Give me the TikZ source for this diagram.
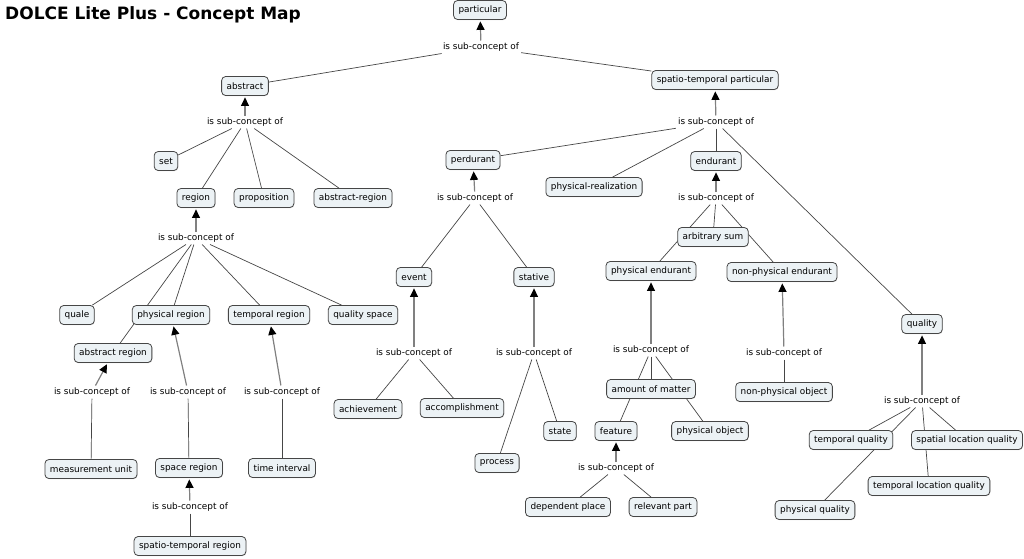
\documentclass[tikz,border=0pt]{standalone}
\usepackage{fontspec}
\setmainfont{DejaVu Sans}
\usepackage{tikz}
\usetikzlibrary{arrows.meta,backgrounds,shadows}
\definecolor{CMfill}{RGB}{236,242,245}
\definecolor{CMline}{RGB}{70,70,70}
\tikzset{
  concept/.style={rounded corners=4pt,draw=CMline,line width=0.8pt,fill=CMfill,
                  minimum height=19pt,inner xsep=5pt,inner ysep=2pt,
                  font=\fontsize{8.9}{10}\selectfont,
                  drop shadow={shadow xshift=0.5pt,shadow yshift=-0.7pt,fill=black!30}},
  link/.style={inner sep=2pt,font=\fontsize{8.9}{10}\selectfont},
  isa/.style={-{Triangle[length=8.5pt,width=8pt,color=black]},line width=1.2pt,
              black!50,shorten >=1.5pt},
  rel/.style={line width=0.7pt,CMline},
}

\begin{document}
\begin{tikzpicture}[x=1pt,y=-1pt]
  \useasboundingbox (0,0) rectangle (1024,558);
  \node[anchor=west,inner sep=1pt,font=\fontsize{17}{19}\selectfont\bfseries] (title) at (4,15)
    {DOLCE Lite Plus - Concept Map};

  \node[concept] (particular) at (480,10) {particular};
  \node[concept] (abstract) at (245,86) {abstract};
  \node[concept] (stp) at (715,80) {spatio-temporal particular};
  \node[concept] (set) at (166,161) {set};
  \node[concept] (region) at (196,198) {region};
  \node[concept] (proposition) at (264,198) {proposition};
  \node[concept] (absregion) at (353,198) {abstract-region};
  \node[concept] (quale) at (77,315) {quale};
  \node[concept] (physregion) at (171,315) {physical region};
  \node[concept] (tempregion) at (269,315) {temporal region};
  \node[concept] (qualspace) at (363,315) {quality space};
  \node[concept] (abstractregion) at (113,353) {abstract region};
  \node[concept] (measunit) at (91,469) {measurement unit};
  \node[concept] (spaceregion) at (189,468) {space region};
  \node[concept] (timeinterval) at (282,468) {time interval};
  \node[concept] (stregion) at (190,546) {spatio-temporal region};

  \node[concept] (perdurant) at (473,160) {perdurant};
  \node[concept] (physreal) at (594,187) {physical-realization};
  \node[concept] (endurant) at (716,161) {endurant};
  \node[concept] (event) at (414,277) {event};
  \node[concept] (stative) at (534,277) {stative};
  \node[concept] (achievement) at (368,409) {achievement};
  \node[concept] (accomplishment) at (462,408) {accomplishment};
  \node[concept] (state) at (560,431) {state};
  \node[concept] (process) at (497,463) {process};
  \node[concept] (arbsum) at (713,237) {arbitrary sum};
  \node[concept] (physend) at (651,271) {physical endurant};
  \node[concept] (nonphysend) at (782,272) {non-physical endurant};
  \node[concept] (matter) at (651,389) {amount of matter};
  \node[concept] (feature) at (616,431) {feature};
  \node[concept] (physobj) at (710,431) {physical object};
  \node[concept] (depplace) at (568,507) {dependent place};
  \node[concept] (relpart) at (663,507) {relevant part};
  \node[concept] (nonphysobj) at (784,392) {non-physical object};
  \node[concept] (quality) at (922,324) {quality};
  \node[concept] (tempquality) at (851,440) {temporal quality};
  \node[concept] (spatquality) at (967,440) {spatial location quality};
  \node[concept] (templocquality) at (929,486) {temporal location quality};
  \node[concept] (physquality) at (815,510) {physical quality};

  \node[link] (l0) at (481,47) {is sub-concept of};
  \node[link] (l1) at (245,122) {is sub-concept of};
  \node[link] (l2) at (196,238) {is sub-concept of};
  \node[link] (l3) at (92,392) {is sub-concept of};
  \node[link] (l4) at (188,392) {is sub-concept of};
  \node[link] (l5) at (282,392) {is sub-concept of};
  \node[link] (l6) at (190,507) {is sub-concept of};
  \node[link] (l7) at (716,122) {is sub-concept of};
  \node[link] (l8) at (475,198) {is sub-concept of};
  \node[link] (l9) at (414,353) {is sub-concept of};
  \node[link] (l10) at (534,353) {is sub-concept of};
  \node[link] (l11) at (716,198) {is sub-concept of};
  \node[link] (l12) at (651,350) {is sub-concept of};
  \node[link] (l13) at (616,468) {is sub-concept of};
  \node[link] (l14) at (784,353) {is sub-concept of};
  \node[link] (l15) at (922,401) {is sub-concept of};

  \begin{scope}[on background layer]
    \foreach \l/\p in {l0/particular,l1/abstract,l2/region,l3/abstractregion,
                       l4/physregion,l5/tempregion,l6/spaceregion,l7/stp,
                       l8/perdurant,l9/event,l10/stative,l11/endurant,
                       l12/physend,l13/feature,l14/nonphysend,l15/quality}
      \draw[isa] (\l) -- (\p);
    \foreach \l/\c in {l0/abstract,l0/stp,
                       l1/set,l1/region,l1/proposition,l1/absregion,
                       l2/quale,l2/physregion,l2/abstractregion,l2/tempregion,l2/qualspace,
                       l3/measunit,l4/spaceregion,l5/timeinterval,l6/stregion,
                       l7/perdurant,l7/physreal,l7/endurant,l7/quality,
                       l8/event,l8/stative,l9/achievement,l9/accomplishment,
                       l10/process,l10/state,
                       l11/arbsum,l11/physend,l11/nonphysend,
                       l12/matter,l12/feature,l12/physobj,
                       l13/depplace,l13/relpart,l14/nonphysobj,
                       l15/tempquality,l15/physquality,l15/spatquality,l15/templocquality}
      \draw[rel] (\l) -- (\c);
  \end{scope}
\end{tikzpicture}
\end{document}
